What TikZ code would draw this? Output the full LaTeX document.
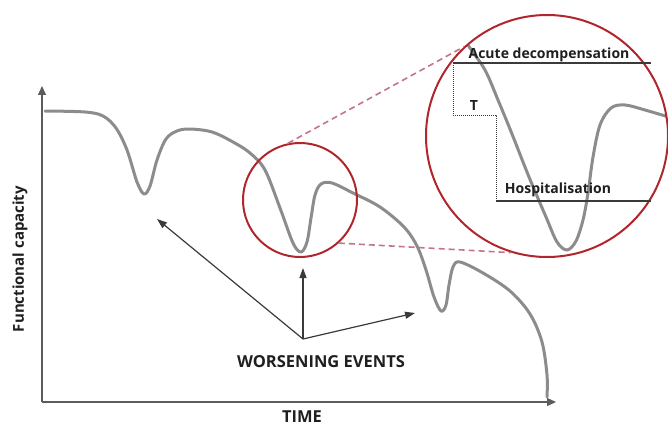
\documentclass[tikz,border=0pt]{standalone}
\usepackage{fontspec}
\setmainfont{Open Sans}
\usetikzlibrary{arrows.meta}
\definecolor{curvegray}{HTML}{8C8C8C}
\definecolor{circred}{HTML}{B0262C}
\definecolor{dashred}{HTML}{C27584}
\definecolor{axisgray}{HTML}{5C5C5C}
\definecolor{inkgray}{HTML}{3A3A3A}
\begin{document}
\begin{tikzpicture}[x=1pt,y=-1pt,
  curveline/.style={draw=curvegray, line width=3pt, line cap=round, line join=round},
  ringnode/.style={draw=circred, line width=2pt, circle, inner sep=0pt, fill=none},
  dashlink/.style={draw=dashred, line width=1.6pt, dash pattern=on 6pt off 4pt},
  axisline/.style={draw=axisgray, line width=1.4pt, -{Triangle[length=9pt,width=8pt]}},
  evarrow/.style={draw=inkgray, line width=1.2pt, -{Triangle[length=10pt,width=7pt]}},
  refline/.style={draw=inkgray, line width=1.2pt},
  dotline/.style={draw=inkgray, line width=1pt, densely dotted},
  lab/.style={text=black!88, font=\bfseries\fontsize{14}{17}\selectfont, inner sep=0pt},
  biglab/.style={lab, font=\bfseries\fontsize{16.5}{19}\selectfont},
  sidelab/.style={lab, font=\bfseries\fontsize{15}{18}\selectfont}
]
\useasboundingbox (0,0) rectangle (668,425);

% axes
\coordinate (origin) at (42,402);
\coordinate (ytop) at (42,86);
\coordinate (xend) at (556,402);
\draw[axisline] (origin) -- (ytop);
\draw[axisline] (origin) -- (xend);

% main curve
\draw[curveline] plot[smooth, tension=0.55] coordinates {
 (45,111) (85,112) (103,116) (116,128) (127,150) (137,182) (144,194) (150,186)
 (157,160) (166,139) (177,131) (190,129) (212,132) (233,142) (250,153) (265,170)
 (280,208) (293,243) (301,252) (307,242) (311,218) (315,195) (321,184) (332,183)
 (353,193) (380,207) (404,227) (417,246) (426,270) (434,297) (441,311) (446,305)
 (449,285) (453,267) (460,262) (483,273) (510,291) (530,314) (542,342) (547,375) (547,397)};

% zoomed curve, clipped by the big circle
\begin{scope}
\clip (547,136) circle [radius=121pt];
\draw[curveline] plot[smooth, tension=0.55] coordinates {
 (458,26) (468,45) (485,70) (498,100) (512,134) (529,177) (546,217) (557,242)
 (567,250) (576,241) (583,220) (588,193) (593,157) (600,125) (611,108) (625,105)
 (645,110) (672,118)};
\end{scope}

% circles
\node[ringnode, minimum size=114pt] (zoomsrc) at (300,200) {};
\node[ringnode, minimum size=242pt] (zoombig) at (547,136) {};

% dashed magnifier links
\draw[dashlink] (zoomsrc.102) -- (zoombig.133);
\draw[dashlink] (zoomsrc.-48) -- (zoombig.-107);

% reference lines in the zoom
\coordinate (acL) at (453,63);
\coordinate (acR) at (651,63);
\coordinate (tcorner) at (453,115);
\coordinate (tstep) at (496,115);
\coordinate (hospL) at (496,201);
\coordinate (hospR) at (651,201);
\draw[refline] (acL) -- (acR);
\draw[refline] (hospL) -- (hospR);
\draw[dotline] (acL) -- (tcorner) -- (tstep) -- (hospL);

\node[lab, anchor=base] (acute) at (549,59) {Acute decompensation};
\node[lab] (tlabel) at (474,106) {T};
\node[lab, anchor=base] (hosp) at (558,193) {Hospitalisation};

% worsening events arrows
\coordinate (wj) at (303,339);
\coordinate (wa1) at (157,219);
\coordinate (wa2) at (303,268);
\coordinate (wa3) at (415,313);
\draw[evarrow] (wj) -- (wa1);
\draw[evarrow] (wj) -- (wa2);
\draw[evarrow] (wj) -- (wa3);

\node[biglab, anchor=base] (worse) at (321,367) {WORSENING EVENTS};
\node[biglab, anchor=base] (time) at (302,422) {TIME};
\node[sidelab, rotate=90] (ylab) at (20,259) {Functional capacity};
\end{tikzpicture}
\end{document}
